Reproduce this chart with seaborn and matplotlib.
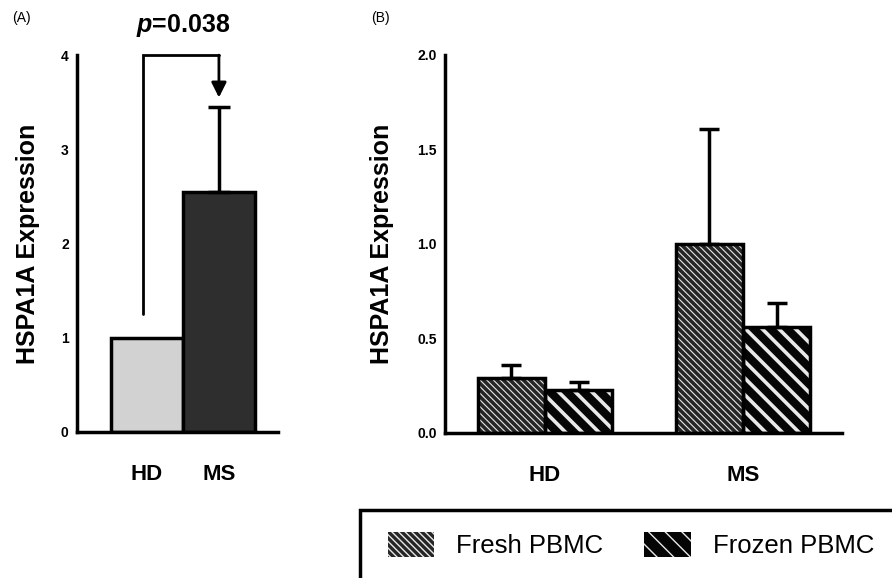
import matplotlib
matplotlib.use("Agg")
import matplotlib.pyplot as plt
from matplotlib.patches import Patch, Rectangle
import pandas as pd
import seaborn as sns

# panel A
a_groups = ["HD", "MS"]
a_means = [1.0, 2.55]
a_err = [0.0, 0.90]
a_colors = ["#d2d2d2", "#2e2e2e"]

# panel B
b_groups = ["HD", "MS"]
b_preps = ["Fresh PBMC", "Frozen PBMC"]
b_fresh = [0.29, 1.00]
b_fresh_err = [0.07, 0.61]
b_frozen = [0.225, 0.56]
b_frozen_err = [0.045, 0.13]

p_label = "=0.038"

sns.set_style("white")
plt.rcParams["font.family"] = ["Liberation Sans", "DejaVu Sans"]
plt.rcParams["mathtext.fontset"] = "custom"
plt.rcParams["mathtext.it"] = "Liberation Sans:italic:bold"
plt.rcParams["mathtext.rm"] = "Liberation Sans:bold"
for k in ["text.color", "axes.labelcolor", "xtick.color", "ytick.color"]:
    plt.rcParams[k] = "black"

fig = plt.figure(figsize=(8.92, 5.78), dpi=100)
axA = fig.add_axes([77 / 892, 0.2526, 201 / 892, 0.652])
axB = fig.add_axes([445 / 892, 0.2509, 397 / 892, 0.654])


def style_axis(ax):
    for s in ["top", "right"]:
        ax.spines[s].set_visible(False)
    for s in ["left", "bottom"]:
        ax.spines[s].set_linewidth(2.5)
        ax.spines[s].set_color("black")
    ax.tick_params(axis="y", direction="out", length=5, width=2, pad=1,
                   labelsize=10, colors="black")
    ax.tick_params(axis="x", length=0, pad=23, labelsize=16)
    for t in ax.get_yticklabels():
        t.set_fontweight("bold")
    for t in ax.get_xticklabels():
        t.set_fontweight("bold")
    ax.set_xlabel("")


def outline(ax, p, lw=2.5):
    ax.add_patch(Rectangle(p.get_xy(), p.get_width(), p.get_height(),
                           fill=False, ec="black", lw=lw, zorder=3))


# ---- panel A ----
sns.barplot(x=a_groups, y=a_means, hue=a_groups, palette=a_colors,
            width=1.0, legend=False, saturation=1, ax=axA,
            edgecolor="black", linewidth=2.5)
for cont, e in zip(axA.containers, a_err):
    p = cont[0]
    if e > 0:
        axA.errorbar(p.get_x() + p.get_width() / 2, p.get_height(),
                     yerr=[[0], [e]], fmt="none", ecolor="black",
                     elinewidth=2.5, capsize=8, capthick=2.5, zorder=2)
axA.set_ylim(0, 4)
axA.set_yticks([0, 1, 2, 3, 4])
axA.set_xlim(-0.97, 1.82)
axA.set_ylabel("HSPA1A Expression", fontsize=18, fontweight="bold", labelpad=15)
style_axis(axA)

# significance bracket
xa, xb = -0.06, 1.0
axA.plot([xa, xa, xb], [a_means[0] + 0.25, 4.0, 4.0], color="black", lw=2,
         clip_on=False, solid_joinstyle="miter")
axA.annotate("", xy=(xb, 3.55), xytext=(xb, 4.0),
             arrowprops=dict(arrowstyle="-|>,head_length=0.6,head_width=0.3",
                             mutation_scale=15, color="black", lw=2,
                             shrinkA=0, shrinkB=0),
             annotation_clip=False)
axA.text(0.5, 4.31, "$p$" + p_label, ha="center", va="center", fontsize=18,
         fontweight="bold", clip_on=False)

# ---- panel B ----
df = pd.DataFrame({
    "group": b_groups * 2,
    "prep": [b_preps[0]] * 2 + [b_preps[1]] * 2,
    "value": b_fresh + b_frozen,
})
face = ["#262626", "#050505"]
sns.barplot(data=df, x="group", y="value", hue="prep", hue_order=b_preps,
            width=0.68, legend=False, ax=axB, saturation=1, palette=face)
hatches = ["\\" * 5, "\\" * 2]
hatch_lw = [0.8, 2.6]
errs = [b_fresh_err, b_frozen_err]
for cont, h, hl, err in zip(axB.containers, hatches, hatch_lw, errs):
    for p, e in zip(cont, err):
        p.set_edgecolor("#e8e8e8")
        p.set_linewidth(0)
        p.set_hatch(h)
        if hasattr(p, "set_hatch_linewidth"):
            p.set_hatch_linewidth(hl)
        outline(axB, p)
        axB.errorbar(p.get_x() + p.get_width() / 2, p.get_height(),
                     yerr=[[0], [e]], fmt="none", ecolor="black",
                     elinewidth=2.5, capsize=7, capthick=2.5, zorder=2)
axB.set_ylim(0, 2.0)
axB.set_yticks([0, 0.5, 1.0, 1.5, 2.0])
axB.set_yticklabels(["0.0", "0.5", "1.0", "1.5", "2.0"])
axB.set_xlim(-0.505, 1.5)
axB.set_ylabel("HSPA1A Expression", fontsize=18, fontweight="bold", labelpad=17)
style_axis(axB)

# legend
handles = []
for c, h, hl in zip(face, hatches, hatch_lw):
    hp = Patch(facecolor=c, edgecolor="#e8e8e8", hatch=h, lw=0)
    if hasattr(hp, "set_hatch_linewidth"):
        hp.set_hatch_linewidth(hl)
    handles.append(hp)
fig.legend(handles, b_preps, loc="center left",
           bbox_to_anchor=(365 / 892, 1 - 545 / 578), ncol=2, frameon=False,
           fontsize=18.5, handlelength=1.8, handleheight=1.15,
           columnspacing=1.6, handletextpad=0.85)
fig.add_artist(Rectangle((360 / 892, -0.1), 0.7, 0.1 + 68 / 578,
                         transform=fig.transFigure, fill=False, ec="black",
                         lw=2.5))

fig.text(12 / 892, 1 - 18 / 578, "(A)", fontsize=10, va="center")
fig.text(371 / 892, 1 - 18 / 578, "(B)", fontsize=10, va="center")

fig.savefig("out.png", dpi=100)
